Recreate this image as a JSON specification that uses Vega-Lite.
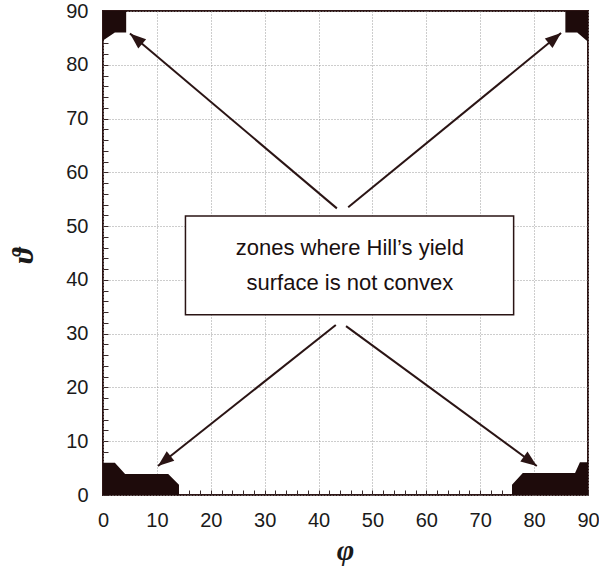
{
  "$schema": "https://vega.github.io/schema/vega-lite/v6.json",
  "width": 485,
  "height": 484,
  "autosize": {"type": "none"},
  "padding": {"left": 103, "top": 11, "right": 11, "bottom": 81},
  "background": "white",
  "config": {
    "view": {"stroke": "#2e1616", "strokeWidth": 2},
    "axis": {
      "labelFont": "Liberation Sans",
      "labelFontSize": 20,
      "labelColor": "#1a1a1a",
      "titleFont": "Liberation Serif",
      "titleFontStyle": "italic",
      "titleFontSize": 30,
      "titleFontWeight": "bold",
      "titleColor": "#1a1a1a",
      "domain": false,
      "tickColor": "#3a2a2a",
      "tickSize": -5,
      "tickCount": 100,
      "gridColor": "#9a9a9a",
      "gridDash": [1, 2],
      "labelFlush": false,
      "labelOverlap": false
    }
  },
  "datasets": {
    "zones": [
      {"zone": "TL", "phi": 0, "lo": 84.5, "hi": 90},
      {"zone": "TL", "phi": 2.2, "lo": 86, "hi": 90},
      {"zone": "TL", "phi": 4.3, "lo": 86, "hi": 90},
      {"zone": "TR", "phi": 85.8, "lo": 86, "hi": 90},
      {"zone": "TR", "phi": 88, "lo": 86, "hi": 90},
      {"zone": "TR", "phi": 90, "lo": 84.3, "hi": 90},
      {"zone": "BL", "phi": 0, "lo": 0, "hi": 6},
      {"zone": "BL", "phi": 2.2, "lo": 0, "hi": 6},
      {"zone": "BL", "phi": 4.1, "lo": 0, "hi": 3.9},
      {"zone": "BL", "phi": 12.1, "lo": 0, "hi": 3.9},
      {"zone": "BL", "phi": 14.1, "lo": 0, "hi": 1.9},
      {"zone": "BR", "phi": 75.9, "lo": 0, "hi": 1.9},
      {"zone": "BR", "phi": 77.9, "lo": 0, "hi": 4.1},
      {"zone": "BR", "phi": 87.6, "lo": 0, "hi": 4.1},
      {"zone": "BR", "phi": 88.5, "lo": 0, "hi": 6.1},
      {"zone": "BR", "phi": 90, "lo": 0, "hi": 6.1}
    ],
    "arrows": [
      {"dir": "NW", "phi0": 43.4, "th0": 53.3, "phi1": 5.0, "th1": 85.8},
      {"dir": "NE", "phi0": 45.5, "th0": 53.5, "phi1": 85.0, "th1": 85.9},
      {"dir": "SW", "phi0": 43.2, "th0": 31.6, "phi1": 10.2, "th1": 5.4},
      {"dir": "SE", "phi0": 45.1, "th0": 31.4, "phi1": 80.5, "th1": 5.4}
    ],
    "box": [
      {"phi0": 15.3, "phi1": 76.2, "th0": 33.5, "th1": 51.9}
    ],
    "notes": [
      {"phi": 45.8, "th": 45.9, "text": "zones where Hill’s yield"},
      {"phi": 45.8, "th": 39.4, "text": "surface is not convex"}
    ]
  },
  "layer": [
    {
      "data": {"name": "zones"},
      "mark": {"type": "area", "color": "#1e0b0b", "opacity": 1},
      "encoding": {
        "x": {
          "field": "phi", "type": "quantitative",
          "scale": {"domain": [0, 90], "nice": false, "zero": false},
          "axis": {
            "orient": "bottom",
            "values": [0,2,4,6,8,10,12,14,16,18,20,22,24,26,28,30,32,34,36,38,40,42,44,46,48,50,52,54,56,58,60,62,64,66,68,70,72,74,76,78,80,82,84,86,88,90],
            "tickCount": 100,
            "labelExpr": "datum.value % 10 === 0 ? datum.label : ''",
            "gridOpacity": {"condition": {"test": "datum.value % 10 === 0", "value": 1}, "value": 0},
            "labelPadding": 20,
            "title": "φ",
            "titleX": 242,
            "titleY": 64,
            "titleAlign": "center",
            "titleBaseline": "alphabetic"
          }
        },
        "y": {
          "field": "hi", "type": "quantitative",
          "scale": {"domain": [0, 90], "nice": false, "zero": false},
          "axis": {
            "orient": "left",
            "values": [0,2,4,6,8,10,12,14,16,18,20,22,24,26,28,30,32,34,36,38,40,42,44,46,48,50,52,54,56,58,60,62,64,66,68,70,72,74,76,78,80,82,84,86,88,90],
            "tickCount": 100,
            "labelExpr": "datum.value % 10 === 0 ? datum.label : ''",
            "gridOpacity": {"condition": {"test": "datum.value % 10 === 0", "value": 1}, "value": 0},
            "labelPadding": 20,
            "title": "ϑ",
            "titleX": -71,
            "titleY": 244,
            "titleAngle": 270,
            "titleAlign": "center",
            "titleBaseline": "alphabetic"
          }
        },
        "y2": {"field": "lo"},
        "detail": {"field": "zone", "type": "nominal"}
      }
    },
    {
      "data": {"name": "arrows"},
      "mark": {"type": "rule", "color": "#2a1414", "strokeWidth": 2},
      "encoding": {
        "x": {"field": "phi0", "type": "quantitative"},
        "y": {"field": "th0", "type": "quantitative"},
        "x2": {"field": "phi1"},
        "y2": {"field": "th1"}
      }
    },
    {
      "data": {"name": "arrows"},
      "transform": [{"filter": "datum.dir === 'NW'"}],
      "mark": {"type": "point", "shape": "M0,0L-0.38,1L0.38,1Z", "filled": true, "color": "#2a1414", "opacity": 1, "size": 1024, "angle": 310},
      "encoding": {
        "x": {"field": "phi1", "type": "quantitative"},
        "y": {"field": "th1", "type": "quantitative"}
      }
    },
    {
      "data": {"name": "arrows"},
      "transform": [{"filter": "datum.dir === 'NE'"}],
      "mark": {"type": "point", "shape": "M0,0L-0.38,1L0.38,1Z", "filled": true, "color": "#2a1414", "opacity": 1, "size": 1024, "angle": 50.7},
      "encoding": {
        "x": {"field": "phi1", "type": "quantitative"},
        "y": {"field": "th1", "type": "quantitative"}
      }
    },
    {
      "data": {"name": "arrows"},
      "transform": [{"filter": "datum.dir === 'SW'"}],
      "mark": {"type": "point", "shape": "M0,0L-0.38,1L0.38,1Z", "filled": true, "color": "#2a1414", "opacity": 1, "size": 1024, "angle": 231.6},
      "encoding": {
        "x": {"field": "phi1", "type": "quantitative"},
        "y": {"field": "th1", "type": "quantitative"}
      }
    },
    {
      "data": {"name": "arrows"},
      "transform": [{"filter": "datum.dir === 'SE'"}],
      "mark": {"type": "point", "shape": "M0,0L-0.38,1L0.38,1Z", "filled": true, "color": "#2a1414", "opacity": 1, "size": 1024, "angle": 126.2},
      "encoding": {
        "x": {"field": "phi1", "type": "quantitative"},
        "y": {"field": "th1", "type": "quantitative"}
      }
    },
    {
      "data": {"name": "box"},
      "mark": {"type": "rect", "fill": "white", "stroke": "#2a1414", "strokeWidth": 1.5},
      "encoding": {
        "x": {"field": "phi0", "type": "quantitative"},
        "x2": {"field": "phi1"},
        "y": {"field": "th0", "type": "quantitative"},
        "y2": {"field": "th1"}
      }
    },
    {
      "data": {"name": "notes"},
      "mark": {"type": "text", "font": "Liberation Sans", "fontSize": 22, "color": "#1a1010", "align": "center", "baseline": "middle"},
      "encoding": {
        "x": {"field": "phi", "type": "quantitative"},
        "y": {"field": "th", "type": "quantitative"},
        "text": {"field": "text", "type": "nominal"}
      }
    }
  ]
}
